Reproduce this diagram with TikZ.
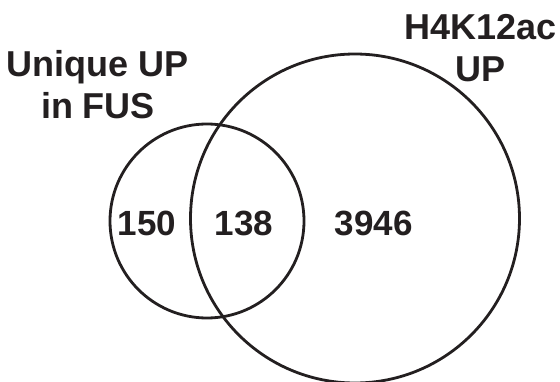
\documentclass[tikz,border=0pt]{standalone}
\usepackage{fontspec}
\setmainfont{Liberation Sans}
\definecolor{inkdark}{RGB}{35,31,32}
\tikzset{
  venn/.style={draw=inkdark,circle,line width=2.8pt,inner sep=0pt},
  setlabel/.style={text=inkdark,font=\bfseries\fontsize{36}{42}\selectfont,align=center,anchor=base},
  count/.style={text=inkdark,font=\bfseries\fontsize{35}{42}\selectfont,anchor=base}
}
\begin{document}
\begin{tikzpicture}[x=1pt,y=1pt]
  \useasboundingbox (0,0) rectangle (560,381);
  \node[venn,minimum size=194pt] (fus) at (207,160) {};
  \node[venn,minimum size=329pt] (h4k) at (355,162.5) {};

  % base anchor sits on the last line
  \node[setlabel] (fuslbl) at (98,262.7) {Unique UP\\in FUS};
  \node[setlabel] (h4klbl) at (481,299.3) {H4K12ac\\UP};

  \node[count] (onlyfus) at (147,146) {150};
  \node[count] (both) at (244,146) {138};
  \node[count] (onlyh4k) at (373.7,146) {3946};
\end{tikzpicture}
\end{document}
